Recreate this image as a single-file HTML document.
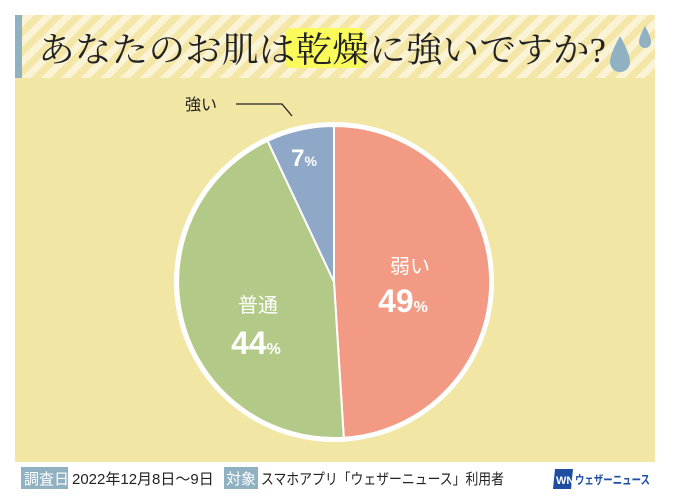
<!DOCTYPE html>
<html><head><meta charset="utf-8"><style>
body{margin:0;background:#fff;width:674px;height:502px;overflow:hidden;font-family:"Liberation Sans","Noto Sans CJK JP",sans-serif}
</style></head><body>
<svg width="674" height="502" xmlns="http://www.w3.org/2000/svg" style="position:absolute;left:0;top:0">
<defs>
<pattern id="st" patternUnits="userSpaceOnUse" width="14" height="14" patternTransform="rotate(45)">
<rect width="14" height="14" fill="#f3e6a6"/><rect width="7" height="14" fill="#faf3d6"/>
</pattern>
</defs>
<rect x="15" y="15" width="640" height="447" fill="#f2e6a5"/>
<rect x="15" y="15" width="640" height="63" fill="url(#st)"/>
<rect x="15" y="15" width="7" height="63" fill="#8fb1c2"/>
<rect x="285" y="28" width="80" height="40" rx="6" fill="#fafa5a"/>
<text x="38" y="62" font-family="'Liberation Serif','Noto Serif CJK SC',serif" font-size="35" fill="#222" textLength="568" lengthAdjust="spacingAndGlyphs">あなたのお肌は乾燥に強いですか?</text>
<path d="M620 36 Q610 54 610 62 A10 10 0 0 0 630 62 Q630 54 620 36Z" fill="#8fb1c2"/>
<path d="M645 26 Q639 37 639 42 A6 6 0 0 0 651 42 Q651 37 645 26Z" fill="#8fb1c2"/>
<circle cx="334" cy="282" r="160" fill="#fff"/>
<path d="M334 282 L334 126 A156 156 0 0 1 343.8 437.7Z" fill="#f29a84" stroke="#fff" stroke-width="2"/>
<path d="M334 282 L343.8 437.7 A156 156 0 0 1 267.6 140.9Z" fill="#b3c987" stroke="#fff" stroke-width="2"/>
<path d="M334 282 L267.6 140.9 A156 156 0 0 1 334 126Z" fill="#8fa8c8" stroke="#fff" stroke-width="2"/>
<g fill="#fff" text-anchor="middle" font-weight="bold">
<text x="410" y="273" font-size="20" font-weight="normal">弱い</text>
<text x="403" y="312" font-size="32">49<tspan font-size="16">%</tspan></text>
<text x="258" y="312" font-size="20" font-weight="normal">普通</text>
<text x="256" y="354" font-size="32">44<tspan font-size="16">%</tspan></text>
<text x="304" y="166" font-size="24">7<tspan font-size="14">%</tspan></text>
</g>
<text x="185" y="110" font-size="16" fill="#222">強い</text>
<polyline points="236,104 282,104 292,116" fill="none" stroke="#222" stroke-width="1.3"/>
<rect x="21" y="467" width="47" height="22" fill="#8fb1c2"/>
<text x="24" y="484" font-size="15" fill="#fff">調査日</text>
<text x="72" y="484" font-size="15" fill="#222">2022年12月8日～9日</text>
<rect x="224" y="467" width="34" height="22" fill="#8fb1c2"/>
<text x="226" y="484" font-size="15" fill="#fff">対象</text>
<text x="261" y="484" font-size="15" fill="#222" textLength="243" lengthAdjust="spacingAndGlyphs">スマホアプリ「ウェザーニュース」利用者</text>
<path d="M555 469 L573 469 L571 489 L553 489Z" fill="#1f4ea0"/>
<text x="556" y="484" font-size="11" font-weight="bold" fill="#fff">WN</text>
<text x="575" y="484" font-size="12" font-weight="bold" fill="#1f4ea0" textLength="75" lengthAdjust="spacingAndGlyphs">ウェザーニュース</text>
</svg>
</body></html>
